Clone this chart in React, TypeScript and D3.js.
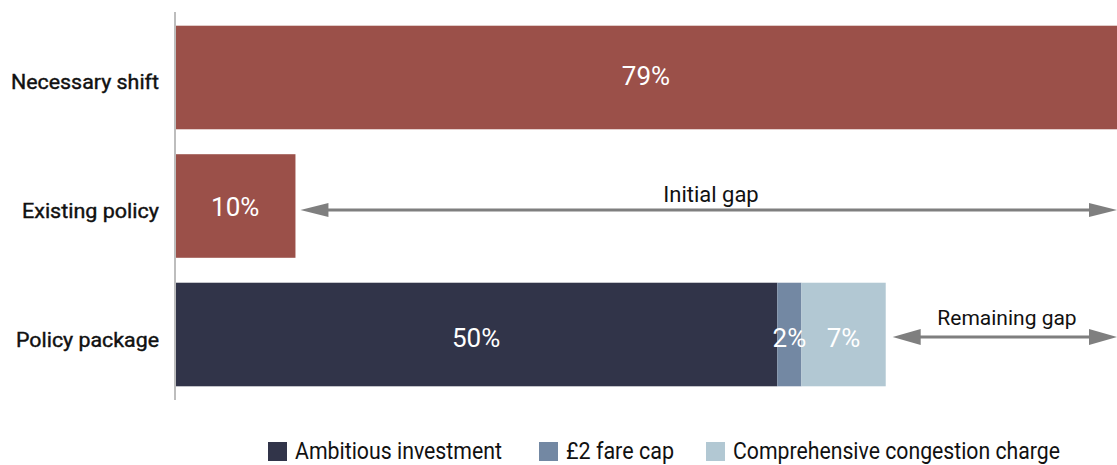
import React from "react";
import * as d3 from "d3";

const categories = ["Necessary shift", "Existing policy", "Policy package"];
const necessaryShift = [79];
const existingPolicy = [10];
const packageSeries = ["Ambitious investment", "£2 fare cap", "Comprehensive congestion charge"];
const packageValues = [50, 2, 7];
const packageColors = ["#313449", "#7388a3", "#b2c8d3"];
const red = "#9b5049";

const W = 1117;
const H = 465;

export default function App() {
  const x = d3.scaleLinear().domain([0, 78.2]).range([175, 1117]);
  const y = d3.scaleBand().domain(categories).range([0, 412]).paddingInner(0.194).paddingOuter(0.2);
  const bh = y.bandwidth();
  const font = "Roboto, 'Noto Sans', sans-serif";
  const gray = "#7f7f7f";

  const stacked: { key: string; x0: number; x1: number; v: number; c: string }[] = [];
  let acc = 0;
  packageValues.forEach((v, i) => {
    stacked.push({ key: packageSeries[i], x0: acc, x1: acc + v, v, c: packageColors[i] });
    acc += v;
  });
  const pkgEnd = acc;

  const arrow = (x1: number, x2: number, yy: number, hw: number) => {
    const hl = 28;
    return (
      <g>
        <line x1={x1 + hl - 1} x2={x2 - hl + 1} y1={yy} y2={yy} stroke={gray} strokeWidth={3} />
        <path d={`M${x1},${yy} L${x1 + hl},${yy - hw} L${x1 + hl},${yy + hw} Z`} fill={gray} />
        <path d={`M${x2},${yy} L${x2 - hl},${yy - hw} L${x2 - hl},${yy + hw} Z`} fill={gray} />
      </g>
    );
  };

  const yN = y("Necessary shift")!;
  const yE = y("Existing policy")!;
  const yP = y("Policy package")!;

  const catWidths: Record<string, number> = { "Necessary shift": 148, "Existing policy": 137, "Policy package": 143 };
  const legendX = [268, 539, 706];
  const legendW = [207, 108, 327];

  return (
    <svg width={W} height={H} style={{ position: "absolute", left: 0, top: 0 }} fontFamily={font}>
      {categories.map((c) => (
        <text key={c} x={159 - catWidths[c]} y={y(c)! + bh / 2 + 12} fontSize={20} fontWeight={400} fill="#111"
          stroke="#111" strokeWidth={0.4} textLength={catWidths[c]} lengthAdjust="spacingAndGlyphs">
          {c}
        </text>
      ))}
      <rect x={x(0)} y={yN} width={x(necessaryShift[0]) - x(0)} height={bh} fill={red} />
      <text x={(x(0) + W) / 2} y={yN + bh / 2 + 8} textAnchor="middle" fill="#fff" fontSize={26}>
        {necessaryShift[0]}%
      </text>
      <rect x={x(0)} y={yE} width={x(existingPolicy[0]) - x(0)} height={bh} fill={red} />
      <text x={x(existingPolicy[0] / 2)} y={yE + bh / 2 + 10} textAnchor="middle" fill="#fff" fontSize={26}>
        {existingPolicy[0]}%
      </text>
      {stacked.map((s) => (
        <rect key={s.key} x={x(s.x0)} y={yP} width={x(s.x1) - x(s.x0)} height={bh} fill={s.c} />
      ))}
      {stacked.map((s) => (
        <text key={s.key + "l"} x={x((s.x0 + s.x1) / 2)} y={yP + bh / 2 + 12} textAnchor="middle" fill="#fff" fontSize={26}>
          {s.v}%
        </text>
      ))}
      <line x1={175} x2={175} y1={12} y2={400} stroke="#bdbdbd" strokeWidth={2} />
      {arrow(x(existingPolicy[0]) + 5, W, 210, 7)}
      <text x={711} y={202} textAnchor="middle" fontSize={22} fill="#111">Initial gap</text>
      {arrow(x(pkgEnd) + 7, W, 337, 8)}
      <text x={1007} y={325} textAnchor="middle" fontSize={21} fill="#111">Remaining gap</text>
      {packageSeries.map((s, i) => (
        <g key={s}>
          <rect x={legendX[i]} y={442} width={19} height={19} fill={packageColors[i]} />
          <text x={legendX[i] + 27} y={459} fontSize={23} fill="#111" textLength={legendW[i]} lengthAdjust="spacingAndGlyphs">{s}</text>
        </g>
      ))}
    </svg>
  );
}
